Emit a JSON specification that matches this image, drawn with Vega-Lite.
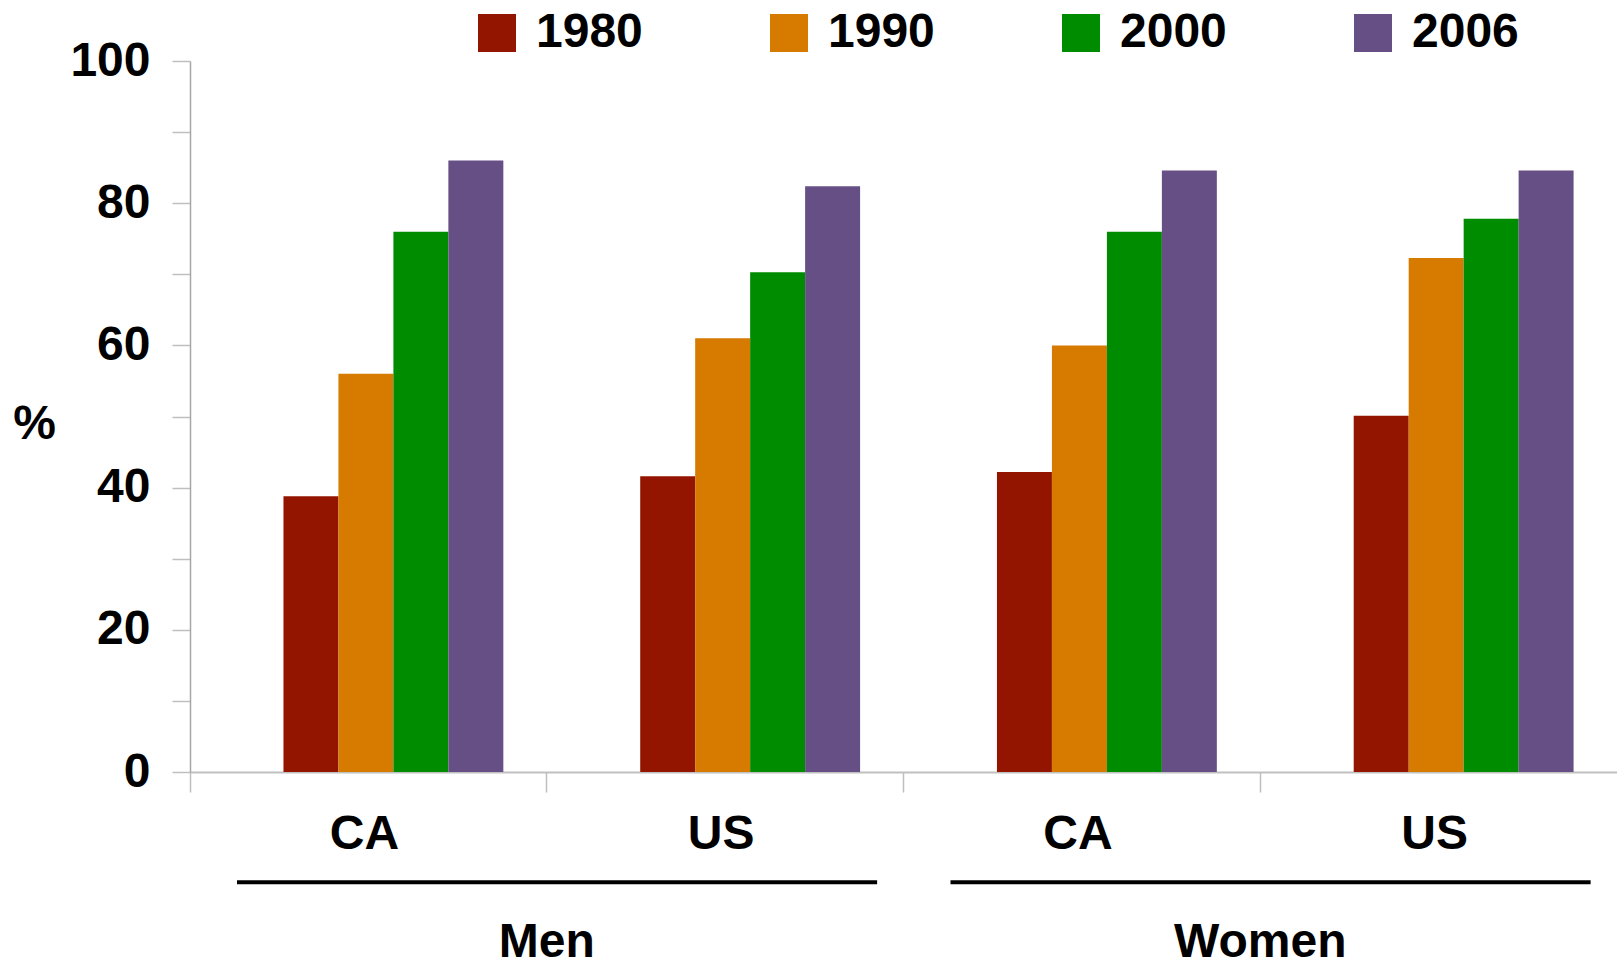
{
  "$schema": "https://vega.github.io/schema/vega-lite/v6.json",
  "autosize": {"type": "none"},
  "padding": {"left": 190, "top": 61, "right": 0, "bottom": 187},
  "width": 1427,
  "height": 711,
  "background": "white",
  "config": {"font": "Liberation Sans", "view": {"stroke": null}},
  "datasets": {
    "bars": [
      {"sex": "Men", "country": "CA", "key": "Men-CA", "year": "1980", "pct": 38.8},
      {"sex": "Men", "country": "CA", "key": "Men-CA", "year": "1990", "pct": 56.0},
      {"sex": "Men", "country": "CA", "key": "Men-CA", "year": "2000", "pct": 76.0},
      {"sex": "Men", "country": "CA", "key": "Men-CA", "year": "2006", "pct": 86.0},
      {"sex": "Men", "country": "US", "key": "Men-US", "year": "1980", "pct": 41.6},
      {"sex": "Men", "country": "US", "key": "Men-US", "year": "1990", "pct": 61.0},
      {"sex": "Men", "country": "US", "key": "Men-US", "year": "2000", "pct": 70.3},
      {"sex": "Men", "country": "US", "key": "Men-US", "year": "2006", "pct": 82.4},
      {"sex": "Women", "country": "CA", "key": "Women-CA", "year": "1980", "pct": 42.2},
      {"sex": "Women", "country": "CA", "key": "Women-CA", "year": "1990", "pct": 60.0},
      {"sex": "Women", "country": "CA", "key": "Women-CA", "year": "2000", "pct": 76.0},
      {"sex": "Women", "country": "CA", "key": "Women-CA", "year": "2006", "pct": 84.6},
      {"sex": "Women", "country": "US", "key": "Women-US", "year": "1980", "pct": 50.1},
      {"sex": "Women", "country": "US", "key": "Women-US", "year": "1990", "pct": 72.3},
      {"sex": "Women", "country": "US", "key": "Women-US", "year": "2000", "pct": 77.8},
      {"sex": "Women", "country": "US", "key": "Women-US", "year": "2006", "pct": 84.6}
    ],
    "groups": [
      {"group": "Men", "first": "Men-CA", "second": "Men-US"},
      {"group": "Women", "first": "Women-CA", "second": "Women-US"}
    ]
  },
  "layer": [
    {
      "data": {"name": "bars"},
      "mark": {"type": "bar"},
      "encoding": {
        "x": {
          "field": "key", "type": "nominal",
          "scale": {"domain": ["Men-CA", "Men-US", "Women-CA", "Women-US"], "paddingInner": 0, "paddingOuter": 0},
          "axis": {
            "title": null,
            "labelExpr": "split(datum.label, '-')[1]",
            "labelAngle": 0,
            "labelFontSize": 48,
            "labelFontWeight": "bold",
            "labelColor": "black",
            "labelPadding": 18,
            "labelOffset": -4,
            "bandPosition": 0,
            "tickExtra": false,
            "tickSize": 20,
            "tickColor": "#bfbfbf",
            "tickWidth": 1.5,
            "domainColor": "#c0c0c0",
            "domainWidth": 2
          }
        },
        "xOffset": {
          "field": "year", "type": "nominal",
          "scale": {"domain": ["", "1980", "1990", "2000", "2006"], "paddingInner": 0, "paddingOuter": 0.745, "align": 0.47}
        },
        "y": {
          "field": "pct", "type": "quantitative",
          "scale": {"domain": [0, 100], "nice": false},
          "axis": {
            "title": "%",
            "titleAngle": 0,
            "titleFontSize": 48,
            "titleFontWeight": "bold",
            "titleColor": "black",
            "titleX": -156,
            "titleY": 363,
            "titleAlign": "center",
            "titleBaseline": "middle",
            "values": [0, 10, 20, 30, 40, 50, 60, 70, 80, 90, 100],
            "labelExpr": "datum.value % 20 == 0 ? datum.label : ''",
            "labelFontSize": 48,
            "labelFontWeight": "bold",
            "labelColor": "black",
            "labelPadding": 22,
            "tickSize": 18,
            "tickColor": "#bfbfbf",
            "tickWidth": 1.5,
            "domainColor": "#a6a6a6",
            "domainWidth": 1.5,
            "grid": false
          }
        },
        "color": {
          "field": "year", "type": "nominal",
          "scale": {"domain": ["1980", "1990", "2000", "2006"], "range": ["#931500", "#D67A00", "#008C00", "#664F85"]},
          "legend": {
            "title": null,
            "orient": "none",
            "legendX": 283,
            "legendY": -52,
            "direction": "horizontal",
            "symbolType": "square",
            "symbolSize": 1444,
            "symbolStrokeWidth": 0,
            "symbolOpacity": 1,
            "labelFontSize": 48,
            "labelFontWeight": "bold",
            "labelColor": "black",
            "labelOffset": 15,
            "columnPadding": 122,
            "padding": 0
          }
        }
      }
    },
    {
      "data": {"name": "groups"},
      "mark": {"type": "rule", "color": "black", "strokeWidth": 4, "xOffset": 47, "x2Offset": 152},
      "encoding": {
        "x": {"field": "first", "type": "nominal", "bandPosition": 0},
        "x2": {"field": "second"},
        "y": {"datum": -15.5}
      }
    },
    {
      "data": {"name": "groups"},
      "mark": {"type": "text", "fontSize": 48, "fontWeight": "bold", "color": "black", "align": "center", "baseline": "alphabetic"},
      "encoding": {
        "x": {"field": "second", "type": "nominal", "bandPosition": 0},
        "y": {"datum": -26},
        "text": {"field": "group"}
      }
    }
  ]
}
